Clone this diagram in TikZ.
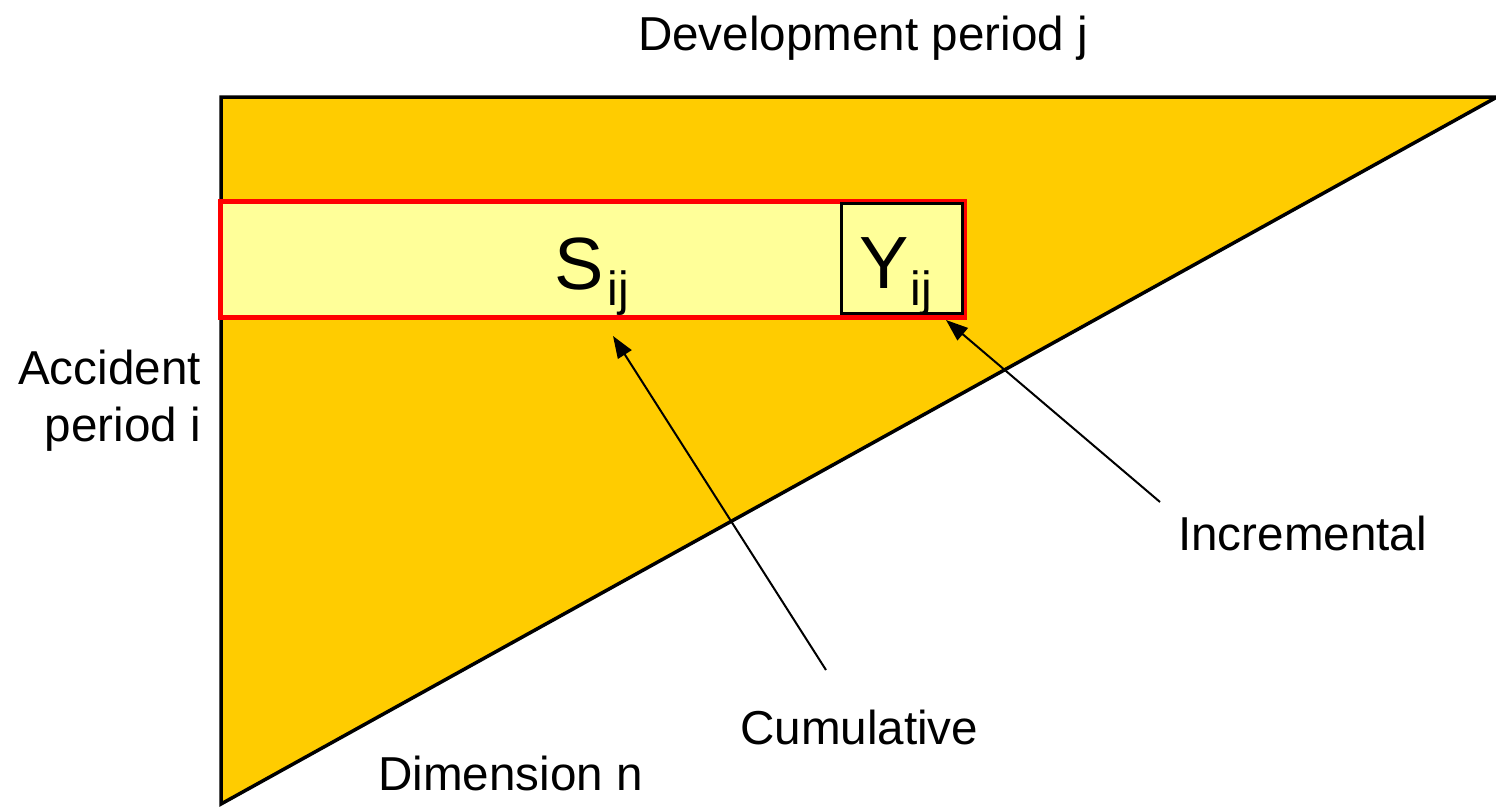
\documentclass[tikz,border=0pt]{standalone}
\usepackage{fontspec}
\setmainfont{Liberation Sans}
\usetikzlibrary{arrows.meta}
\definecolor{triorange}{HTML}{FFCC00}
\definecolor{lightyel}{HTML}{FFFF99}
\definecolor{redline}{HTML}{FF0000}
\begin{document}
\begin{tikzpicture}[x=1pt,y=-1pt,
  lbl/.style={inner sep=0pt,font=\fontsize{47.6}{55}\selectfont},
  big/.style={inner sep=0pt,font=\fontsize{74}{76}\selectfont},
  ptr/.style={line width=2pt,-{Triangle[length=22pt,width=16pt]}}]
\useasboundingbox (0,0) rectangle (1496,806);
% triangle
\path[fill=triorange,draw=black,line width=3.5pt,line join=miter]
  (221,97) coordinate (tl) -- (1497,97) coordinate (tr) -- (221,804) coordinate (bl) -- cycle;
% red rectangle
\draw[fill=lightyel,draw=redline,line width=5pt] (220.5,201.5) rectangle (964,317.5);
% Y box
\draw[fill=lightyel,draw=black,line width=3pt] (841,203) rectangle (962,313.5);
% texts
\node[big,anchor=base west] (S) at (554,289) {S\kern4pt\raisebox{-16pt}{\fontsize{48}{48}\selectfont ij}};
\node[big,anchor=base west] (Y) at (859,288) {Y\kern2pt\raisebox{-17pt}{\fontsize{48}{48}\selectfont ij}};
\node[lbl,anchor=base] (dev) at (863,50) {Development period j};
\node[lbl,anchor=base east] (acc1) at (201,384) {Accident};
\node[lbl,anchor=base east] (acc2) at (201,441) {period i};
\node[lbl,anchor=base west] (inc) at (1178,550) {Incremental};
\node[lbl,anchor=base west] (cum) at (740,744) {Cumulative};
\node[lbl,anchor=base west] (dim) at (378,790) {Dimension n};
% arrows
\coordinate (cumtail) at (826,670);
\coordinate (cumtip) at (613,336);
\coordinate (inctail) at (1160,502);
\coordinate (inctip) at (946,320);
\draw[ptr] (cumtail) -- (cumtip);
\draw[ptr] (inctail) -- (inctip);
\end{tikzpicture}
\end{document}
